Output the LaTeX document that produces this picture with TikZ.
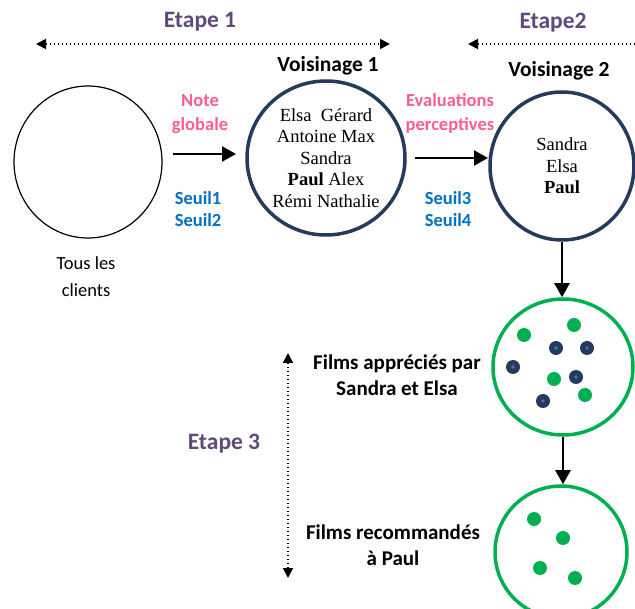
\documentclass[tikz,border=0pt]{standalone}
\usepackage{fontspec}
\setmainfont{Liberation Serif}
\newfontfamily\calibri{Carlito}
\usetikzlibrary{arrows.meta,shapes.geometric}

\definecolor{etapecol}{HTML}{604A7B}
\definecolor{notecol}{HTML}{FF5C93}
\definecolor{seuilcol}{HTML}{0070C0}
\definecolor{navy}{HTML}{243B5E}
\definecolor{navyin}{HTML}{4472C4}
\definecolor{filmgreen}{HTML}{00B050}

\begin{document}
\begin{tikzpicture}[x=1pt,y=-1pt,
    etape/.style={font=\calibri\bfseries\fontsize{23.5}{28}\selectfont, text=etapecol},
    titre/.style={font=\calibri\bfseries\fontsize{21.5}{24}\selectfont},
    critere/.style={font=\calibri\bfseries\fontsize{18.5}{24}\selectfont, text=notecol, align=center},
    seuil/.style={font=\calibri\bfseries\fontsize{18.5}{22}\selectfont, text=seuilcol, align=center},
    films/.style={font=\calibri\bfseries\fontsize{21}{25.5}\selectfont, align=center},
    noms/.style={font=\fontsize{18.5}{21.5}\selectfont, align=center},
    groupe/.style={ellipse, draw=navy, line width=3.5pt, inner sep=0pt},
    lot/.style={ellipse, draw=filmgreen, line width=3.5pt, inner sep=0pt},
    flow/.style={line width=2.4pt, -{Triangle[length=14pt,width=15pt]}},
    etendue/.style={line width=1.8pt, dash pattern=on 1.8pt off 2.2pt, {Triangle[length=10pt,width=10pt]}-{Triangle[length=10pt,width=10pt]}}]
    \useasboundingbox (0,0) rectangle (635,609);
    \clip (0,0) rectangle (635,609);

    % Etapes
    \node[etape] (e1) at (200,22) {Etape 1};
    \node[etape] (e2) at (553,23) {Etape2};
    \node[etape] (e3) at (224,444) {Etape 3};
    \coordinate (d1a) at (36,44);
    \coordinate (d1b) at (390,44);
    \coordinate (d2a) at (468,44);
    \coordinate (d2b) at (652,44);
    \coordinate (d3a) at (288,353);
    \coordinate (d3b) at (288,578);
    \draw[etendue] (d1a) -- (d1b);
    \draw[etendue] (d2a) -- (d2b);
    \draw[etendue] (d3a) -- (d3b);

    % Voisinages
    \node[ellipse, draw, line width=1.2pt, minimum width=148pt, minimum height=152pt] (tous) at (88,162) {};
    \node[font=\calibri\fontsize{18.5}{27}\selectfont, align=center] (tousl) at (86,277) {Tous les\\clients};
    \node[groupe, noms, minimum width=158pt, minimum height=154pt] (v1) at (326,158)
        {Elsa\ \ Gérard\\Antoine Max\\Sandra\\\textbf{Paul} Alex\\Rémi Nathalie};
    \node[groupe, noms, minimum width=144pt, minimum height=148pt] (v2) at (562,166)
        {Sandra\\Elsa\\\textbf{Paul}};
    \node[titre] (v1t) at (328,66) {Voisinage 1};
    \node[titre] (v2t) at (559,71) {Voisinage 2};

    \node[critere] (note) at (200,114) {Note\\globale};
    \node[critere] (eval) at (450,113) {Evaluations\\perceptives};
    \node[seuil] (s12) at (198,209) {Seuil1\\Seuil2};
    \node[seuil] (s34) at (448,209) {Seuil3\\Seuil4};

    \coordinate (a1a) at (173,154);
    \coordinate (a1b) at (236,154);
    \coordinate (a2a) at (415,158);
    \coordinate (a2b) at (488,158);
    \draw[flow] (a1a) -- (a1b);
    \draw[flow] (a2a) -- (a2b);

    % Films
    \node[lot, minimum width=140pt, minimum height=136pt] (g1) at (563,367) {};
    \node[lot, minimum width=132pt, minimum height=132pt] (g2) at (561,552) {};
    \node[films] (f1) at (397,375) {Films appréciés par\\Sandra et Elsa};
    \node[films] (f2) at (393,545) {Films recommandés\\à Paul};

    \foreach \x/\y in {524/335, 574/325, 554/379, 585/395, 534/519, 563/538, 540/568, 575/578}
        \fill[filmgreen] (\x,\y) circle (7pt);
    \foreach \x/\y in {556/348, 587/348, 513/367, 576/377, 543/401} {
        \fill[navy] (\x,\y) circle (7pt);
        \fill[navyin] (\x,\y) circle (1.8pt);
    }

    \draw[flow] (v2.south) -- (v2.south |- g1.north);
    \draw[flow] (g1.south) -- (g1.south |- g2.north);
\end{tikzpicture}
\end{document}
